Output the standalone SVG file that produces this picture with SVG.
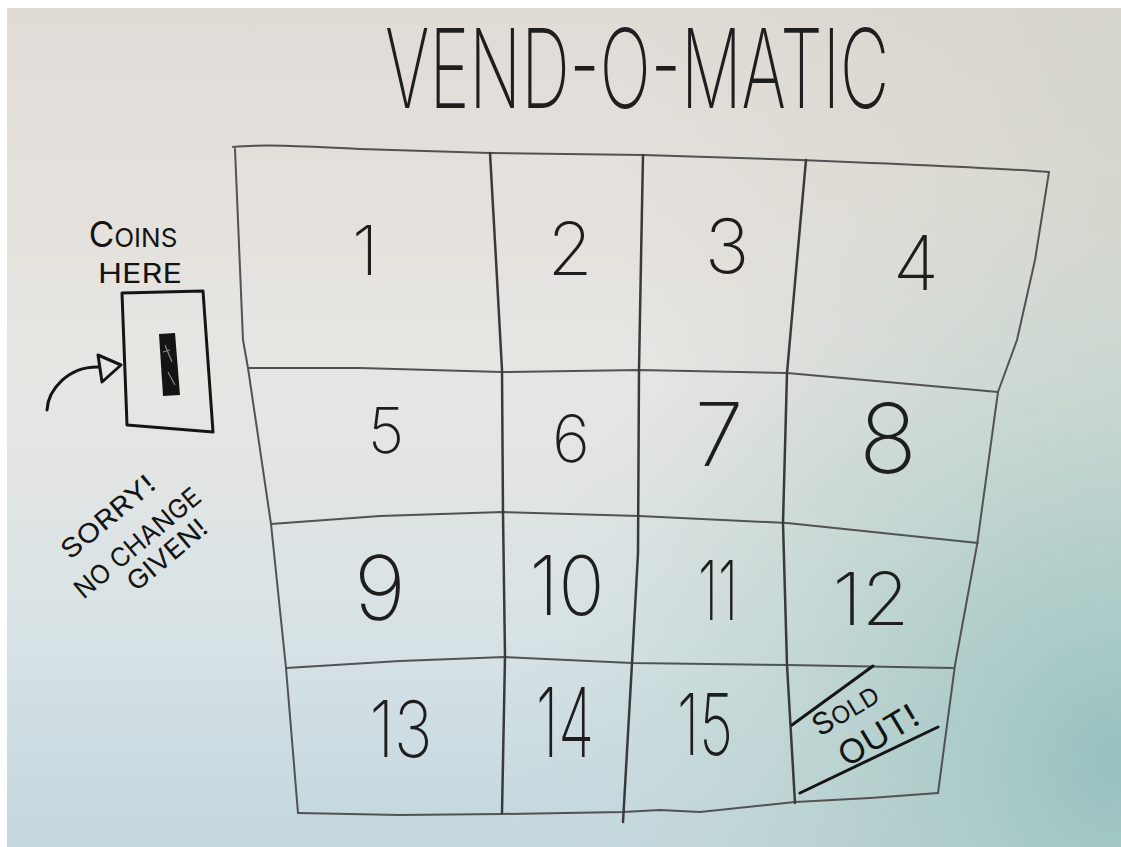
<svg xmlns="http://www.w3.org/2000/svg" width="1121" height="847" viewBox="0 0 1121 847">
<defs>
<linearGradient id="bgv" x1="0" y1="0" x2="0" y2="1">
<stop offset="0" stop-color="#e1dbd6"/>
<stop offset="0.45" stop-color="#e7e6e3"/>
<stop offset="0.75" stop-color="#d7e2e5"/>
<stop offset="1" stop-color="#c3d7df"/>
</linearGradient>
<radialGradient id="teal" cx="1121" cy="760" r="620" gradientUnits="userSpaceOnUse">
<stop offset="0" stop-color="#95c1bf" stop-opacity="1"/>
<stop offset="0.35" stop-color="#a8cbc8" stop-opacity="0.7"/>
<stop offset="1" stop-color="#c9dcd8" stop-opacity="0"/>
</radialGradient>
<linearGradient id="tr" x1="0" y1="0" x2="1" y2="0">
<stop offset="0.55" stop-color="#d2d0c4" stop-opacity="0"/>
<stop offset="1" stop-color="#cfd2c6" stop-opacity="0.6"/>
</linearGradient>
<style>
.grid{fill:none;stroke:#525252;stroke-width:2;stroke-linejoin:round;stroke-linecap:round}
.vdiv{fill:none;stroke:#3a3a3a;stroke-width:2.5;stroke-linecap:round;stroke-linejoin:round}
.ink{fill:none;stroke:#151515;stroke-width:3;stroke-linecap:round;stroke-linejoin:round}
.num{font-family:Inter,Lato,"Open Sans","Liberation Sans",sans-serif;font-weight:200;fill:#1e1e1e;text-anchor:middle}
.hand{font-family:Inter,Lato,"Liberation Sans",sans-serif;font-weight:400;fill:#141414;text-anchor:middle}
</style>
</defs>
<rect width="1121" height="847" fill="#ffffff"/>
<rect x="7" y="8" width="1114" height="839" fill="url(#bgv)"/>
<rect x="7" y="8" width="1114" height="839" fill="url(#tr)"/>
<rect x="7" y="8" width="1114" height="839" fill="url(#teal)"/>

<g id="title">
<text class="num" x="637" y="108" font-size="110" font-weight="300" fill="#2e2724" textLength="504" lengthAdjust="spacingAndGlyphs">VEND-O-MATIC</text>
</g>

<g id="grid">
<path class="grid" d="M233,147 C260,144 300,146 360,149 L490,153 L643,155 L800,160 C900,164 1000,168 1049,172"/>
<path class="grid" d="M235,149 L243,340 L248,368 L271,524 L286,668 L298,813"/>
<path class="grid" d="M1049,172 L1035,260 L1017,340 L998,392 L977,545 L955,665 L938,793"/>
<path class="grid" d="M248,368 L360,368 L502,372 L639,370 L787,373 L998,392"/>
<path class="grid" d="M271,524 L380,516 L503,512 L639,516 L787,523 L978,543"/>
<path class="grid" d="M286,668 L400,661 L505,657 L632,663 L787,665 L953,668"/>
<path class="grid" d="M298,813 L400,815 L502,814 L623,812 L660,810 L700,812 L795,802 L870,798 L938,793"/>
<path class="vdiv" d="M490,153 L496,260 L502,370 L503,513 L505,657 L502,813"/>
<path class="vdiv" d="M643,155 L641,260 L639,370 L638,553 L632,663 L623,822"/>
<path class="vdiv" d="M806,160 L797,260 L787,373 L783,523 L787,665 L795,803"/>
</g>

<g id="coin-slot">
<text class="hand" x="133" y="247"><tspan font-size="35">C</tspan><tspan font-size="26">OINS</tspan></text>
<text class="hand" x="140" y="283" font-size="27" textLength="84" lengthAdjust="spacingAndGlyphs">HERE</text>
<path class="ink" stroke-width="2.8" d="M122,293 L203,291 L213,432 L127,425 Z"/>
<path d="M159,334 L175,333 L180,395 L163,396 Z" fill="#141414"/>
<path d="M165,345 L172,362 M168,372 L175,385 M163,352 L170,350" stroke="#8a8a8a" stroke-width="1.2" fill="none"/>
<path class="ink" stroke-width="3.2" d="M47,410 C48,390 68,366 99,367"/>
<path class="ink" stroke-width="3" d="M98,355 L121,365 L102,382 Z"/>
</g>

<g id="no-change" transform="translate(135,540) rotate(-40)">
<text class="hand" x="-6" y="-26" font-size="26" textLength="114" lengthAdjust="spacingAndGlyphs">SORRY!</text>
<text class="hand" x="0" y="13" font-size="26" textLength="156" lengthAdjust="spacingAndGlyphs">NO CHANGE</text>
<text class="hand" x="15" y="41" font-size="26" textLength="96" lengthAdjust="spacingAndGlyphs">GIVEN!</text>
</g>

<g id="cell-1"><text class="num" x="365" y="275" font-size="69">1</text></g>
<g id="cell-2"><text class="num" x="570" y="275" font-size="73">2</text></g>
<g id="cell-3"><text class="num" x="727" y="273" font-size="75">3</text></g>
<g id="cell-4"><text class="num" x="916" y="290" font-size="75">4</text></g>
<g id="cell-5"><text class="num" x="386" y="453" font-size="63">5</text></g>
<g id="cell-6"><text class="num" x="571" y="462" font-size="65">6</text></g>
<g id="cell-7"><text class="num" x="719" y="466" font-size="88">7</text></g>
<g id="cell-8"><text class="num" x="888" y="473" font-size="96">8</text></g>
<g id="cell-9"><text class="num" x="380" y="620" font-size="89">9</text></g>
<g id="cell-10"><text class="num" x="567" y="615" font-size="82" textLength="75" lengthAdjust="spacingAndGlyphs">10</text></g>
<g id="cell-11"><text class="num" x="718" y="620" font-size="82" textLength="40" lengthAdjust="spacingAndGlyphs">11</text></g>
<g id="cell-12"><text class="num" x="871" y="625" font-size="73" textLength="77" lengthAdjust="spacingAndGlyphs">12</text></g>
<g id="cell-13"><text class="num" x="401" y="757" font-size="78" textLength="63" lengthAdjust="spacingAndGlyphs">13</text></g>
<g id="cell-14"><text class="num" x="565" y="757" font-size="96" textLength="58" lengthAdjust="spacingAndGlyphs">14</text></g>
<g id="cell-15"><text class="num" x="705" y="755" font-size="85" textLength="56" lengthAdjust="spacingAndGlyphs">15</text></g>

<g id="cell-16">
<path class="ink" d="M792,725 L873,666"/>
<path class="ink" d="M800,793 L938,727"/>
<g transform="translate(846,711) rotate(-31)">
<text class="hand" x="0" y="9" font-size="24" font-weight="300" textLength="72" lengthAdjust="spacingAndGlyphs"><tspan font-size="30">S</tspan>OLD</text>
</g>
<g transform="translate(878,735) rotate(-31)">
<text class="hand" x="0" y="12" font-size="33" font-weight="300" textLength="88" lengthAdjust="spacingAndGlyphs">OUT!</text>
</g>
</g>
</svg>
